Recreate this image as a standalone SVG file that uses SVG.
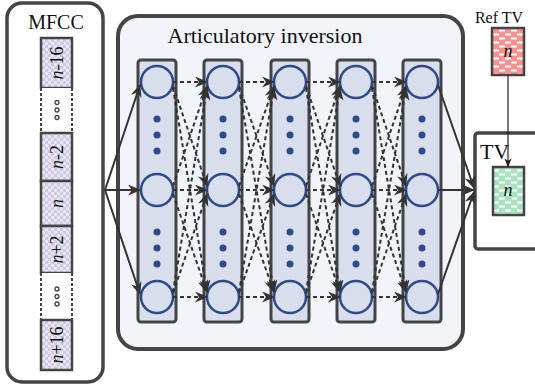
<svg xmlns="http://www.w3.org/2000/svg" width="535" height="390" viewBox="0 0 535 390">
<defs>
<pattern id="chk" width="6" height="6" patternUnits="userSpaceOnUse">
<rect width="6" height="6" fill="#e8e6f2"/>
<rect width="3" height="3" fill="#cfcae3"/>
<rect x="3" y="3" width="3" height="3" fill="#cfcae3"/>
</pattern>
<pattern id="redp" width="12" height="8" patternUnits="userSpaceOnUse">
<rect width="12" height="8" fill="#fd8f8f"/>
<rect x="1" y="1.5" width="6" height="2" fill="#fff"/>
<rect x="7" y="5.5" width="5" height="2" fill="#fff"/>
<rect x="0" y="5.5" width="1" height="2" fill="#fff"/>
</pattern>
<pattern id="grnp" width="12" height="8" patternUnits="userSpaceOnUse">
<rect width="12" height="8" fill="#a8e3c0"/>
<rect x="1" y="1.5" width="6" height="2" fill="#fff"/>
<rect x="7" y="5.5" width="5" height="2" fill="#fff"/>
<rect x="0" y="5.5" width="1" height="2" fill="#fff"/>
</pattern>
<marker id="ah" viewBox="0 0 13 11" refX="12" refY="5.5" markerWidth="13" markerHeight="11" markerUnits="userSpaceOnUse" orient="auto">
<path d="M0,0 L13,5.5 L0,11 L4,5.5 Z" fill="#333"/>
</marker>
<marker id="ahs" viewBox="0 0 10 8" refX="9.5" refY="4" markerWidth="9" markerHeight="8" markerUnits="userSpaceOnUse" orient="auto">
<path d="M0,0 L10,4 L0,8 L2.5,4 Z" fill="#222"/>
</marker>
</defs>
<style>
.box{fill:#fff;stroke:#444;stroke-width:3.5}
.cell{fill:url(#chk);stroke:#444;stroke-width:2.5}
.lbl{font-family:"Liberation Serif",serif;fill:#111}
.cl{font-family:"Liberation Serif",serif;font-size:18px;fill:#111}
.col{fill:#d8deec;stroke:#444;stroke-width:3}
.neu{fill:#d8deec;stroke:#2e4a8a;stroke-width:2.5}
.dot{fill:#2e4a8a}
.d{stroke:#333;stroke-width:2;stroke-dasharray:4 3;fill:none;marker-end:url(#ah)}
.s{stroke:#333;stroke-width:2;fill:none;marker-end:url(#ah)}
.oc{fill:none;stroke:#444;stroke-width:1.3}
</style>

<g id="mfcc">
<rect x="7" y="3" width="96" height="379" rx="15" class="box"/>
<text x="56" y="29" text-anchor="middle" class="lbl" font-size="20">MFCC</text>
<rect x="41" y="38" width="31" height="50" class="cell"/>
<text class="cl" text-anchor="middle" dominant-baseline="central" transform="translate(57,63) rotate(-90)"><tspan font-style="italic">n</tspan>-16</text>
<rect x="41" y="88" width="31" height="45" fill="#fff"/>
<line x1="41" y1="88" x2="41" y2="133" stroke="#444" stroke-width="2" stroke-dasharray="3 2"/>
<line x1="72" y1="88" x2="72" y2="133" stroke="#444" stroke-width="2" stroke-dasharray="3 2"/>
<circle cx="57" cy="102.5" r="2" class="oc"/><circle cx="57" cy="110" r="2" class="oc"/><circle cx="57" cy="117.5" r="2" class="oc"/>
<rect x="41" y="133" width="31" height="48" class="cell"/>
<text class="cl" text-anchor="middle" dominant-baseline="central" transform="translate(57,157) rotate(-90)"><tspan font-style="italic">n</tspan>-2</text>
<rect x="41" y="181" width="31" height="45" class="cell"/>
<text class="cl" text-anchor="middle" dominant-baseline="central" font-style="italic" transform="translate(57,203.5) rotate(-90)">n</text>
<rect x="41" y="226" width="31" height="47" class="cell"/>
<text class="cl" text-anchor="middle" dominant-baseline="central" transform="translate(57,249.5) rotate(-90)"><tspan font-style="italic">n</tspan>+2</text>
<rect x="41" y="273" width="31" height="47" fill="#fff"/>
<line x1="41" y1="273" x2="41" y2="320" stroke="#444" stroke-width="2" stroke-dasharray="3 2"/>
<line x1="72" y1="273" x2="72" y2="320" stroke="#444" stroke-width="2" stroke-dasharray="3 2"/>
<circle cx="57" cy="289" r="2" class="oc"/><circle cx="57" cy="296.5" r="2" class="oc"/><circle cx="57" cy="304" r="2" class="oc"/>
<rect x="41" y="320" width="31" height="50" class="cell"/>
<text class="cl" text-anchor="middle" dominant-baseline="central" transform="translate(57,345) rotate(-90)"><tspan font-style="italic">n</tspan>+16</text>
</g>

<g id="inversion">
<rect x="118" y="16" width="345" height="333" rx="20" fill="#f3f4f9" stroke="#444" stroke-width="4"/>
<text x="265" y="43" text-anchor="middle" class="lbl" font-size="22">Articulatory inversion</text>
</g>

<g id="layer1">
<rect x="138" y="60" width="38" height="262" rx="3" class="col"/>
<circle cx="157" cy="82" r="16" class="neu"/><circle cx="157" cy="190" r="16" class="neu"/><circle cx="157" cy="297" r="16" class="neu"/>
<circle cx="157" cy="119" r="3.5" class="dot"/><circle cx="157" cy="135" r="3.5" class="dot"/><circle cx="157" cy="151" r="3.5" class="dot"/>
<circle cx="157" cy="232" r="3.5" class="dot"/><circle cx="157" cy="248" r="3.5" class="dot"/><circle cx="157" cy="264" r="3.5" class="dot"/>
</g>
<g id="layer2">
<rect x="204" y="60" width="38" height="262" rx="3" class="col"/>
<circle cx="223" cy="82" r="16" class="neu"/><circle cx="223" cy="190" r="16" class="neu"/><circle cx="223" cy="297" r="16" class="neu"/>
<circle cx="223" cy="119" r="3.5" class="dot"/><circle cx="223" cy="135" r="3.5" class="dot"/><circle cx="223" cy="151" r="3.5" class="dot"/>
<circle cx="223" cy="232" r="3.5" class="dot"/><circle cx="223" cy="248" r="3.5" class="dot"/><circle cx="223" cy="264" r="3.5" class="dot"/>
</g>
<g id="layer3">
<rect x="271" y="60" width="38" height="262" rx="3" class="col"/>
<circle cx="290" cy="82" r="16" class="neu"/><circle cx="290" cy="190" r="16" class="neu"/><circle cx="290" cy="297" r="16" class="neu"/>
<circle cx="290" cy="119" r="3.5" class="dot"/><circle cx="290" cy="135" r="3.5" class="dot"/><circle cx="290" cy="151" r="3.5" class="dot"/>
<circle cx="290" cy="232" r="3.5" class="dot"/><circle cx="290" cy="248" r="3.5" class="dot"/><circle cx="290" cy="264" r="3.5" class="dot"/>
</g>
<g id="layer4">
<rect x="337" y="60" width="38" height="262" rx="3" class="col"/>
<circle cx="356" cy="82" r="16" class="neu"/><circle cx="356" cy="190" r="16" class="neu"/><circle cx="356" cy="297" r="16" class="neu"/>
<circle cx="356" cy="119" r="3.5" class="dot"/><circle cx="356" cy="135" r="3.5" class="dot"/><circle cx="356" cy="151" r="3.5" class="dot"/>
<circle cx="356" cy="232" r="3.5" class="dot"/><circle cx="356" cy="248" r="3.5" class="dot"/><circle cx="356" cy="264" r="3.5" class="dot"/>
</g>
<g id="layer5">
<rect x="403" y="60" width="38" height="262" rx="3" class="col"/>
<circle cx="422" cy="82" r="16" class="neu"/><circle cx="422" cy="190" r="16" class="neu"/><circle cx="422" cy="297" r="16" class="neu"/>
<circle cx="422" cy="119" r="3.5" class="dot"/><circle cx="422" cy="135" r="3.5" class="dot"/><circle cx="422" cy="151" r="3.5" class="dot"/>
<circle cx="422" cy="232" r="3.5" class="dot"/><circle cx="422" cy="248" r="3.5" class="dot"/><circle cx="422" cy="264" r="3.5" class="dot"/>
</g>

<g id="reftv">
<text x="499" y="23" text-anchor="middle" class="lbl" font-size="16">Ref TV</text>
<rect x="492" y="28" width="32" height="47" fill="url(#redp)" stroke="#444" stroke-width="2.5"/>
<text x="508" y="57" text-anchor="middle" class="cl" font-style="italic">n</text>
</g>

<g id="tv">
<rect x="475" y="133" width="66" height="116" rx="3" class="box" stroke-width="4"/>
<text x="480" y="159" class="lbl" font-size="22">TV</text>
<rect x="493" y="167" width="31" height="48" fill="url(#grnp)" stroke="#444" stroke-width="2.5"/>
<text x="508" y="196" text-anchor="middle" class="cl" font-style="italic">n</text>
</g>

<g id="connectors">
<line x1="105" y1="190" x2="140" y2="85" class="s"/>
<line x1="105" y1="190" x2="140" y2="190" class="s"/>
<line x1="105" y1="190" x2="140" y2="294" class="s"/>

<line x1="173" y1="82" x2="207" y2="82" class="d"/>
<line x1="173" y1="190" x2="207" y2="190" class="d"/>
<line x1="173" y1="297" x2="207" y2="297" class="d"/>
<line x1="173" y1="86" x2="207" y2="186" class="d"/>
<line x1="173" y1="88" x2="207" y2="292" class="d"/>
<line x1="173" y1="186" x2="207" y2="86" class="d"/>
<line x1="173" y1="194" x2="207" y2="292" class="d"/>
<line x1="173" y1="292" x2="207" y2="88" class="d"/>
<line x1="173" y1="293" x2="207" y2="194" class="d"/>

<line x1="239" y1="82" x2="274" y2="82" class="d"/>
<line x1="239" y1="190" x2="274" y2="190" class="d"/>
<line x1="239" y1="297" x2="274" y2="297" class="d"/>
<line x1="239" y1="86" x2="274" y2="186" class="d"/>
<line x1="239" y1="88" x2="274" y2="292" class="d"/>
<line x1="239" y1="186" x2="274" y2="86" class="d"/>
<line x1="239" y1="194" x2="274" y2="292" class="d"/>
<line x1="239" y1="292" x2="274" y2="88" class="d"/>
<line x1="239" y1="293" x2="274" y2="194" class="d"/>

<line x1="306" y1="82" x2="340" y2="82" class="d"/>
<line x1="306" y1="190" x2="340" y2="190" class="d"/>
<line x1="306" y1="297" x2="340" y2="297" class="d"/>
<line x1="306" y1="86" x2="340" y2="186" class="d"/>
<line x1="306" y1="88" x2="340" y2="292" class="d"/>
<line x1="306" y1="186" x2="340" y2="86" class="d"/>
<line x1="306" y1="194" x2="340" y2="292" class="d"/>
<line x1="306" y1="292" x2="340" y2="88" class="d"/>
<line x1="306" y1="293" x2="340" y2="194" class="d"/>

<line x1="372" y1="82" x2="406" y2="82" class="d"/>
<line x1="372" y1="190" x2="406" y2="190" class="d"/>
<line x1="372" y1="297" x2="406" y2="297" class="d"/>
<line x1="372" y1="86" x2="406" y2="186" class="d"/>
<line x1="372" y1="88" x2="406" y2="292" class="d"/>
<line x1="372" y1="186" x2="406" y2="86" class="d"/>
<line x1="372" y1="194" x2="406" y2="292" class="d"/>
<line x1="372" y1="292" x2="406" y2="88" class="d"/>
<line x1="372" y1="293" x2="406" y2="194" class="d"/>

<line x1="438" y1="85" x2="474" y2="188" class="s"/>
<line x1="438" y1="190" x2="474" y2="190" class="s"/>
<line x1="438" y1="294" x2="474" y2="192" class="s"/>

<line x1="508" y1="75" x2="508" y2="167" stroke="#222" stroke-width="1.2" marker-end="url(#ahs)"/>
</g>
</svg>
